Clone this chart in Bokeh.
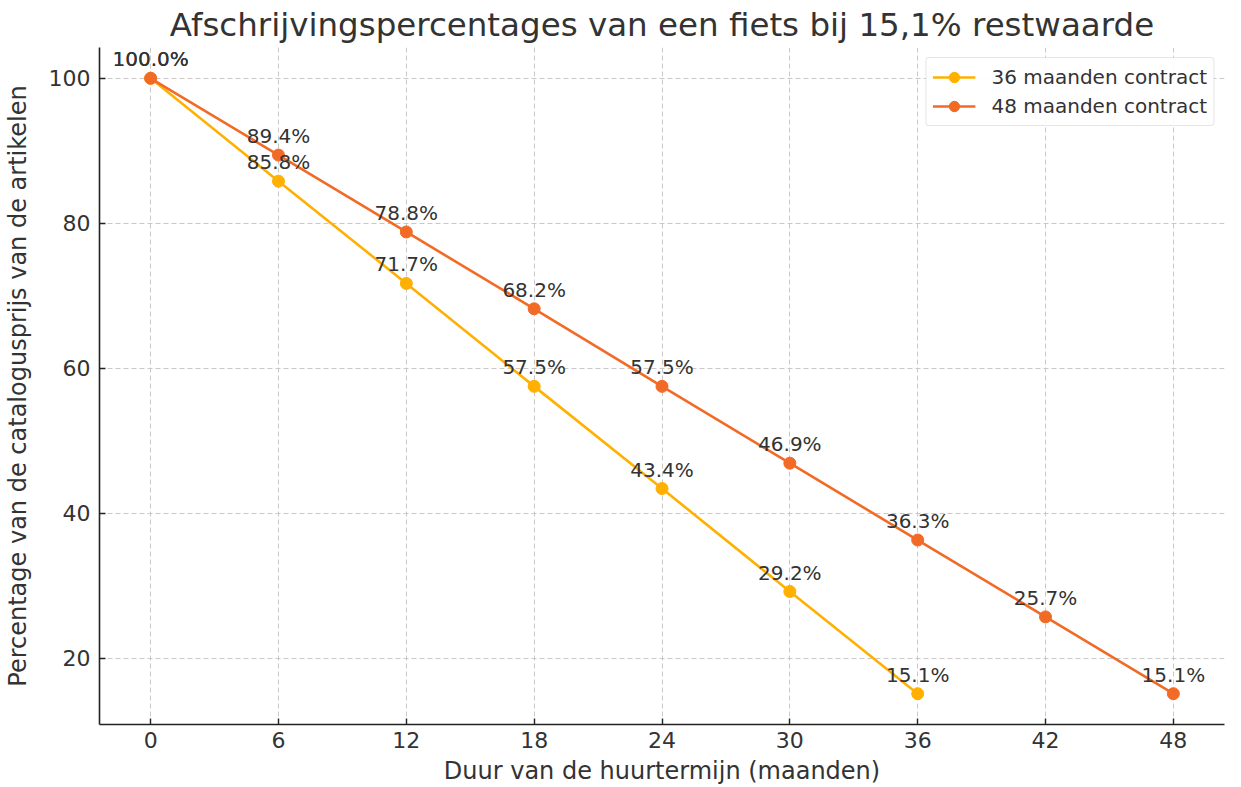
from bokeh.plotting import figure
from bokeh.models import ColumnDataSource, Range1d, FixedTicker, Legend, LegendItem
from bokeh.core.properties import value
from bokeh.embed import file_html
from bokeh.resources import INLINE

months_36 = [0, 6, 12, 18, 24, 30, 36]
values_36 = [100.0, 85.8, 71.7, 57.5, 43.4, 29.2, 15.1]
months_48 = [0, 6, 12, 18, 24, 30, 36, 42, 48]
values_48 = [100.0, 89.4, 78.8, 68.2, 57.5, 46.9, 36.3, 25.7, 15.1]
x_ticks = [0, 6, 12, 18, 24, 30, 36, 42, 48]
y_ticks = [20, 40, 60, 80, 100]
x_title = "Duur van de huurtermijn (maanden)"
y_title = "Percentage van de catalogusprijs van de artikelen"

C36 = "#FFB000"
C48 = "#F26B26"
FONT = "DejaVu Sans"

p = figure(width=1225, height=787, output_backend="svg", toolbar_location=None,
           x_range=Range1d(-2.4, 50.4), y_range=Range1d(10.855, 104.245),
           min_border_left=89, min_border_right=1, min_border_bottom=40, min_border_top=30)

p.title.text = "Afschrijvingspercentages van een fiets bij 15,1% restwaarde"
p.title.align = "center"
p.title.text_font = FONT
p.title.text_font_size = "32.5px"
p.title.text_font_style = "normal"
p.title.text_color = "#333333"
p.title.standoff = 7

p.outline_line_color = None
p.background_fill_color = "white"

for ax in (p.xaxis[0], p.yaxis[0]):
    ax.axis_line_color = "#222222"
    ax.axis_line_width = 1.6
    ax.major_tick_line_color = "#222222"
    ax.major_tick_line_width = 1.4
    ax.major_tick_in = 6
    ax.major_tick_out = 0
    ax.minor_tick_line_color = None
    ax.major_label_text_font = FONT
    ax.major_label_text_font_size = "22px"
    ax.major_label_text_color = "#333333"
    ax.axis_label_text_font = FONT
    ax.axis_label_text_font_size = "24px"
    ax.axis_label_text_font_style = "normal"
    ax.axis_label_text_color = "#333333"

p.xaxis.ticker = FixedTicker(ticks=x_ticks)
p.yaxis.ticker = FixedTicker(ticks=y_ticks)
p.xaxis.axis_label = x_title
p.yaxis.axis_label = y_title
p.xaxis.major_label_standoff = 7
p.yaxis.major_label_standoff = 9
p.xaxis.axis_label_standoff = 6
p.yaxis.axis_label_standoff = 14

p.grid.grid_line_color = "#c8c8c8"
p.grid.grid_line_dash = "5 3"
p.grid.grid_line_width = 1

src36 = ColumnDataSource(dict(x=months_36, y=values_36, t=[f"{v:.1f}%" for v in values_36]))
src48 = ColumnDataSource(dict(x=months_48, y=values_48, t=[f"{v:.1f}%" for v in values_48]))

l36 = p.line("x", "y", source=src36, line_color=C36, line_width=2.6)
s36 = p.scatter("x", "y", source=src36, size=12, fill_color=C36, line_color=C36)
l48 = p.line("x", "y", source=src48, line_color=C48, line_width=2.6)
s48 = p.scatter("x", "y", source=src48, size=12, fill_color=C48, line_color=C48)

for src in (src36, src48):
    p.text("x", "y", text="t", source=src, text_align="center", text_baseline="bottom",
           y_offset=-7, text_font=value(FONT), text_font_size="20px", text_color="#333333")

legend = Legend(items=[LegendItem(label="36 maanden contract", renderers=[l36, s36]),
                       LegendItem(label="48 maanden contract", renderers=[l48, s48])],
                location="top_right")
legend.label_text_font = FONT
legend.label_text_font_size = "20px"
legend.label_text_color = "#333333"
legend.border_line_color = "#cccccc"
legend.border_line_width = 1
legend.border_radius = 4
legend.background_fill_alpha = 0.9
legend.glyph_width = 43
legend.glyph_height = 26
legend.label_standoff = 16
legend.label_height = 26
legend.spacing = 3
legend.padding = 6
legend.margin = 10
p.add_layout(legend)

open("out.html", "w").write(file_html(p, INLINE))
